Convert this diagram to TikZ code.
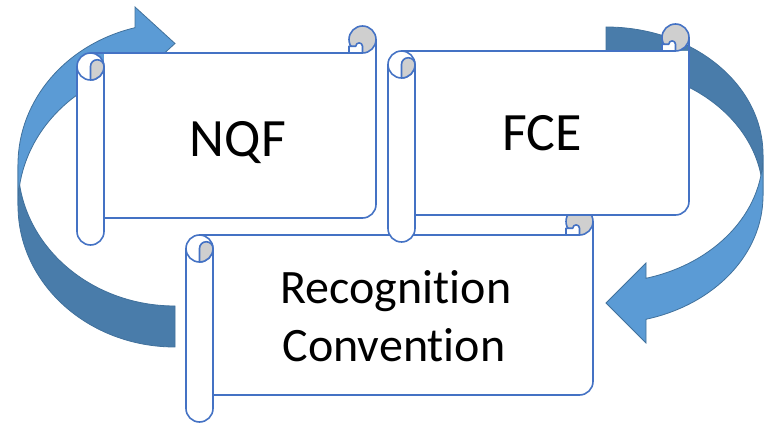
\documentclass[tikz,border=0pt]{standalone}
\usepackage{fontspec}
\setmainfont{Carlito}[Ligatures=NoCommon]
\definecolor{scrollblue}{HTML}{4472C4}
\definecolor{curlgray}{HTML}{CFCFCF}
\definecolor{arrowlight}{HTML}{5B9BD5}
\definecolor{arrowdark}{HTML}{497CAA}
\definecolor{arrowedge}{HTML}{41719C}
\tikzset{
  scrollline/.style={draw=scrollblue, line width=1.6pt, line join=round, line cap=round},
  arrowfront/.style={fill=arrowlight, draw=arrowedge, line width=0.8pt, line join=miter},
  arrowback/.style={fill=arrowdark, draw=arrowedge, line width=0.8pt},
  bigtext/.style={font=\fontsize{54}{60}\selectfont, anchor=base, inner sep=0pt},
  midtext/.style={font=\fontsize{48}{58}\selectfont, anchor=base, inner sep=0pt}
}
\newcommand\scrollbox[4]{%
\begin{scope}[shift={(#1,423-#2-#4)}]
  \pgfmathsetmacro\sW{#3}\pgfmathsetmacro\sH{#4}
  \pgfmathsetmacro\cc{27}\pgfmathsetmacro\hh{13.5}\pgfmathsetmacro\qq{6.75}
  % body fill
  \fill[white] (\cc,\sH-\cc) -- (\sW,\sH-\cc) -- (\sW,\cc+\hh) arc[start angle=0,end angle=-90,radius=\hh] -- (\cc,\cc) -- cycle;
  % column
  \path[scrollline, fill=white] (0,\sH-\cc-\hh) -- (0,\hh) arc[start angle=180,end angle=360,radius=\hh] -- (\cc,\sH-\cc-\hh);
  % body outline
  \draw[scrollline] (\hh,\sH-\cc) -- (\sW-\hh,\sH-\cc);
  \draw[scrollline] (\sW,\sH-\hh) -- (\sW,\cc+\hh) arc[start angle=0,end angle=-90,radius=\hh] -- (\cc,\cc);
  % top-left curl
  \path[scrollline, fill=white] (\hh,\sH-\cc-\hh) circle[radius=\hh];
  \path[scrollline, fill=curlgray] (\hh,\sH-\cc-\hh) -- (\hh,\sH-2*\cc) arc[start angle=-90,end angle=0,radius=\hh] arc[start angle=0,end angle=180,radius=\qq] -- cycle;
  % top-right curl
  \path[scrollline, fill=curlgray] (\sW-\hh,\sH-\hh) circle[radius=\hh];
  \path[scrollline, fill=white] (\sW-\cc,\sH-\cc) -- (\sW-\cc,\sH-\cc+\qq) -- (\sW-\hh-\qq,\sH-\cc+\qq) arc[start angle=180,end angle=0,radius=\qq/2] -- (\sW-\hh,\sH-\cc) -- cycle;
\end{scope}}
\begin{document}
\begin{tikzpicture}[x=1pt,y=1pt]
\useasboundingbox (0,0) rectangle (764,423);
% left curved arrow (back part)
\path[arrowback] (175,76) arc[start angle=270,end angle=180,x radius=157,y radius=141.5]
  -- (18,258.5) arc[start angle=180,end angle=270,x radius=157,y radius=141.5] -- cycle;
% left curved arrow (front part with head)
\path[arrowfront] (18,258.5) arc[start angle=180,end angle=104.76,x radius=157,y radius=141.5]
  -- (135,416) -- (175,379.5) -- (135,343) -- (135,354.3)
  arc[start angle=104.76,end angle=180,x radius=157,y radius=141.5] -- cycle;
% right curved arrow (back part)
\path[arrowback] (606,396) arc[start angle=90,end angle=0,x radius=157,y radius=127.75]
  -- (763,227.25) arc[start angle=0,end angle=90,x radius=157,y radius=127.75] -- cycle;
% right curved arrow (front part with head)
\path[arrowfront] (763,227.25) arc[start angle=0,end angle=-75.24,x radius=157,y radius=127.75]
  -- (646,80) -- (606,120) -- (646,160) -- (646,144.7)
  arc[start angle=-75.24,end angle=0,x radius=157,y radius=127.75] -- cycle;
% scrolls
\scrollbox{77}{26}{299}{219}
\node[bigtext] (nqf) at (238,266) {NQF};
\scrollbox{186}{208}{407}{214}
\node[midtext] (rec1) at (396,119) {Recognition};
\node[midtext] (rec2) at (394,61) {Convention};
\scrollbox{388}{24}{301}{218}
\node[bigtext] (fce) at (542,272) {FCE};
\end{tikzpicture}
\end{document}
